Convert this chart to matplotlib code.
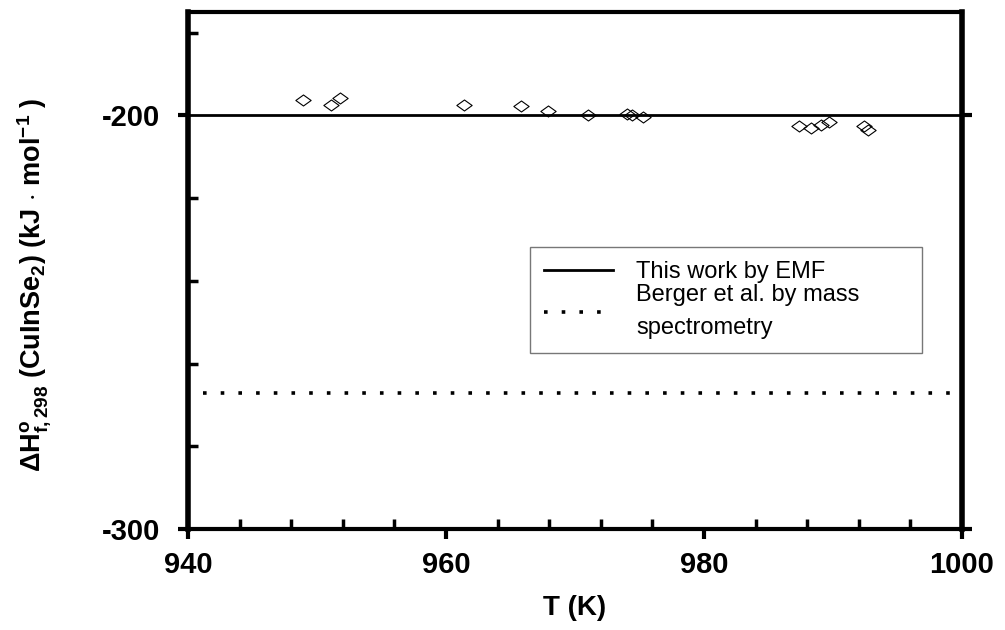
import matplotlib
matplotlib.use("Agg")
import matplotlib.pyplot as plt
from matplotlib.path import Path
from matplotlib.ticker import MultipleLocator, FixedLocator

plt.rcParams['font.family'] = ['Liberation Sans', 'DejaVu Sans']
plt.rcParams['mathtext.fontset'] = 'custom'
plt.rcParams['mathtext.rm'] = 'Liberation Sans'
plt.rcParams['mathtext.bf'] = 'Liberation Sans:bold'
plt.rcParams['mathtext.it'] = 'Liberation Sans:italic'
plt.rcParams['axes.unicode_minus'] = False

# Data
T_points = [948.9, 951.1, 951.8, 961.4, 965.8, 967.9, 971.0, 974.0, 974.4, 975.3,
            987.4, 988.3, 989.1, 989.7, 992.4, 992.7]
H_points = [-196.2, -197.4, -195.9, -197.4, -197.8, -199.0, -200.0, -199.6, -200.0, -200.5,
            -202.5, -203.1, -202.3, -201.6, -202.5, -203.5]
T_line = [940, 1000]
H_emf = [-200, -200]
T_berger = [941.2, 1000]
H_berger = [-267.2, -267.2]
series_labels = ["This work by EMF", "Berger et al. by mass\nspectrometry"]
x_major = [940, 960, 980, 1000]
y_major = [-300, -200]

fig = plt.figure(figsize=(10.05, 6.3), dpi=100)
ax = fig.add_axes([188/1005, 1-529/630, (962-188)/1005, (529-12)/630])

diamond = Path([(-1, 0), (0, 0.72), (1, 0), (0, -0.72), (-1, 0)],
               [Path.MOVETO, Path.LINETO, Path.LINETO, Path.LINETO, Path.CLOSEPOLY])

l1, = ax.plot(T_line, H_emf, color='black', lw=2.0, label=series_labels[0], zorder=2)
l2, = ax.plot(T_berger, H_berger, color='black', lw=2.6, linestyle=(0, (1, 3.9)),
              label=series_labels[1], zorder=2)
ax.plot(T_points, H_points, linestyle='none', marker=diamond, markersize=11,
        markerfacecolor='none', markeredgecolor='black', markeredgewidth=0.8, zorder=3)

ax.set_xlim(940, 1000)
ax.set_ylim(-300, -175)

ax.xaxis.set_major_locator(FixedLocator(x_major))
ax.xaxis.set_minor_locator(MultipleLocator(4))
ax.yaxis.set_major_locator(FixedLocator(y_major))
ax.yaxis.set_minor_locator(MultipleLocator(20))

ax.tick_params(axis='both', which='major', direction='out', length=7, width=3,
               labelsize=21)
ax.tick_params(axis='x', which='major', pad=9)
ax.tick_params(axis='y', which='major', pad=13)
ax.tick_params(axis='both', which='minor', direction='in', length=7, width=2.5)
ax.tick_params(axis='y', which='major', right=True, labelright=False)
ax.tick_params(axis='y', which='minor', right=False)

for lab in ax.get_xticklabels() + ax.get_yticklabels():
    lab.set_fontweight('bold')

ax.spines['left'].set_linewidth(4)
ax.spines['right'].set_linewidth(4)
ax.spines['top'].set_linewidth(3)
ax.spines['bottom'].set_linewidth(3)

ax.set_xlabel('T (K)', fontsize=20, fontweight='bold')
ax.xaxis.set_label_coords(0.5, -0.128)
ax.set_ylabel(r'$\mathbf{\Delta H^{o}_{f,298}}$ (CuInSe$_\mathbf{2}$) (kJ $\cdot$ mol$^\mathbf{-1}$ )',
              fontsize=19.5, fontweight='bold')
ax.yaxis.set_label_coords(-0.175, 0.472)

x0 = (530-188)/774
y1 = (529-247)/517
w = (922-530)/774
h = (352-247)/517
leg = ax.legend(handles=[l1, l2], loc='upper left', bbox_to_anchor=(x0, y1 - h, w, h),
                mode='expand', frameon=True, fancybox=False, edgecolor='#555555', fontsize=17,
                handlelength=2.9, borderpad=0.6, labelspacing=0.05, handletextpad=1.0,
                borderaxespad=0)
leg.get_frame().set_linewidth(1.0)
for t in leg.get_texts():
    t.set_linespacing(1.6)

fig.savefig('out.png', dpi=100)
